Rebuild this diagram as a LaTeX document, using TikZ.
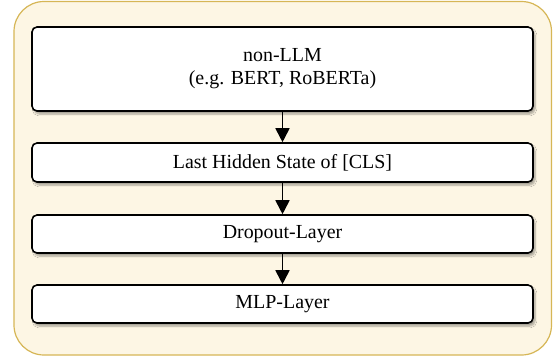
\documentclass[tikz,border=0pt]{standalone}
\usepackage{fontspec}
\setmainfont{Liberation Serif}
\usetikzlibrary{arrows.meta,shadows.blur}
\definecolor{panelfill}{RGB}{253,246,228}
\definecolor{panelline}{RGB}{214,182,86}
\tikzset{
  panel/.style={draw=panelline, fill=panelfill, line width=1.2bp, rounded corners=30bp},
  stage/.style={draw=black, fill=white, line width=1.6bp, rounded corners=5bp,
    blur shadow={shadow xshift=2bp, shadow yshift=-3bp, shadow blur steps=6, shadow opacity=35},
    minimum width=501bp, inner sep=0pt, align=center, font=\fontsize{20}{23}\selectfont},
  flow/.style={-{Triangle[length=14bp,width=14bp]}, line width=1.8bp, draw=black}
}
\begin{document}
\begin{tikzpicture}[x=1bp,y=-1bp]
  \useasboundingbox (0,0) rectangle (556,360);
  % outer container
  \path[panel] (14,1.5) rectangle (551.5,355);
  % processing stages
  \node[stage, minimum height=84bp] (enc) at (282.5,69) {non-LLM\\(e.g. BERT, RoBERTa)};
  \node[stage, minimum height=39bp] (cls) at (282.5,162.5) {Last Hidden State of [CLS]};
  \node[stage, minimum height=38bp] (drop) at (282.5,234) {Dropout-Layer};
  \node[stage, minimum height=38bp] (mlp) at (282.5,304) {MLP-Layer};
  % connectors
  \draw[flow] (enc) -- (cls);
  \draw[flow] (cls) -- (drop);
  \draw[flow] (drop) -- (mlp);
\end{tikzpicture}
\end{document}
